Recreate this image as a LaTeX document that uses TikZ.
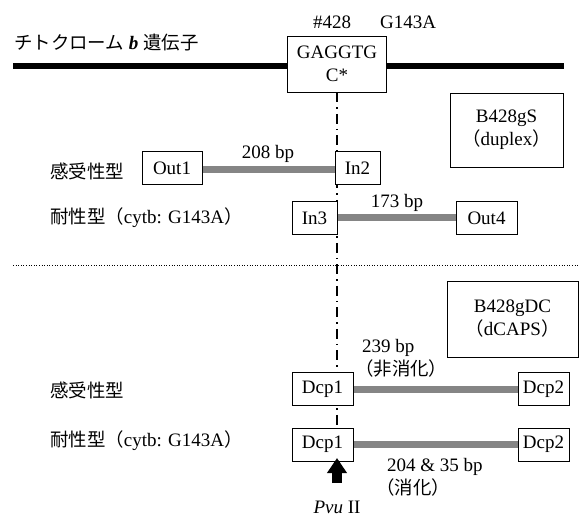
\documentclass[tikz,border=0pt]{standalone}
\usepackage{fontspec}
\setmainfont{Liberation Serif}
\usepackage{tikz}
\usetikzlibrary{arrows.meta}
\newfontfamily\jpfont[Scale=0.97]{Noto Sans CJK JP}
\definecolor{ampgray}{HTML}{858585}
\newcommand{\jlp}{{\jpfont （}}
\newcommand{\jrp}{{\jpfont ）}}

\begin{document}
\begin{tikzpicture}[x=1pt, y=-1pt,
  every node/.style={font=\fontsize{19}{23}\selectfont, inner sep=0pt},
  primer/.style={draw, fill=white, line width=0.9pt, minimum height=33pt},
  infobox/.style={draw, fill=white, line width=0.9pt, align=center},
  amplicon/.style={ampgray, line width=7pt},
  lbl/.style={anchor=west}]

\useasboundingbox (0,0) rectangle (583,516);

% --- Gene and target site ---
\node[lbl] (title) at (14,43) {{\jpfont チトクローム} \textbf{\textit{b}} {\jpfont 遺伝子}};
\node[infobox, minimum width=99pt, minimum height=56pt] (gene) at (337,64) {GAGGTG\\C*};
\node (site) at (332,22) {\#428};
\node (mut)  at (408,22) {G143A};
\coordinate (geneL) at (13,66);
\coordinate (geneR) at (564,66);
\coordinate (pvutip)  at (337,458);
\coordinate (pvutail) at (337,483);

% --- Cut site line and section divider ---
\draw[line width=1.4pt, dash pattern=on 10pt off 5pt on 1.5pt off 5pt] (gene.south) -- (gene.south |- pvutip);
\draw[line width=1pt, dash pattern=on 1pt off 1.6pt] (13,265) -- (578,265);
\draw[line width=6pt] (geneL) -- (geneL -| gene.west);
\draw[line width=6pt] (gene.east |- geneR) -- (geneR);

% --- B428gS (duplex) ---
\node[infobox, minimum width=113pt, minimum height=74pt] (dupbox) at (506.5,130) {B428gS\\\jlp duplex\jrp};
\node[lbl] (susA) at (50,171) {\jpfont 感受性型};
\node[lbl] (resA) at (50,218) {{\jpfont 耐性型（}cytb: G143A\jrp};

\draw[amplicon] (172,169) -- (357.5,169);
\node[primer, minimum width=60pt] (out1) at (172,168) {Out1};
\node[primer, minimum width=45pt] (in2)  at (357.5,168) {In2};
\node (bp208) at (268,154) {208 bp};

\draw[amplicon] (314.5,217) -- (486.5,217);
\node[primer, minimum width=45pt] (in3)  at (314.5,218) {In3};
\node[primer, minimum width=61pt] (out4) at (486.5,218) {Out4};
\node (bp173) at (397,203) {173 bp};

% --- B428gDC (dCAPS) ---
\node[infobox, minimum width=131pt, minimum height=76pt] (dcapsbox) at (512.5,319) {B428gDC\\\jlp dCAPS\jrp};
\node[lbl] (susB) at (50,390) {\jpfont 感受性型};
\node[lbl] (resB) at (50,441) {{\jpfont 耐性型（}cytb: G143A\jrp};

\draw[amplicon] (322.5,389) -- (543.5,389);
\node[primer, minimum width=61pt] (dcp1a) at (322.5,389) {Dcp1};
\node[primer, minimum width=51pt] (dcp2a) at (543.5,389) {Dcp2};
\node[lbl] (bp239) at (362,348) {239 bp};
\node[lbl] (undig) at (355,368) {\jpfont （非消化）};

\draw[amplicon] (322.5,444) -- (543.5,444);
\node[primer, minimum width=61pt] (dcp1b) at (322.5,444.5) {Dcp1};
\node[primer, minimum width=51pt] (dcp2b) at (543.5,444.5) {Dcp2};
\node[lbl] (bp204) at (387,467) {204 \& 35 bp};
\node[lbl] (dig)   at (376,487) {\jpfont （消化）};

% --- PvuII site ---
\draw[line width=10pt, -{Triangle[length=15pt 0, width=19pt 0]}] (pvutail) -- (pvutip);
\node (pvu) at (337,507) {\textit{Pvu} II};

\end{tikzpicture}
\end{document}
